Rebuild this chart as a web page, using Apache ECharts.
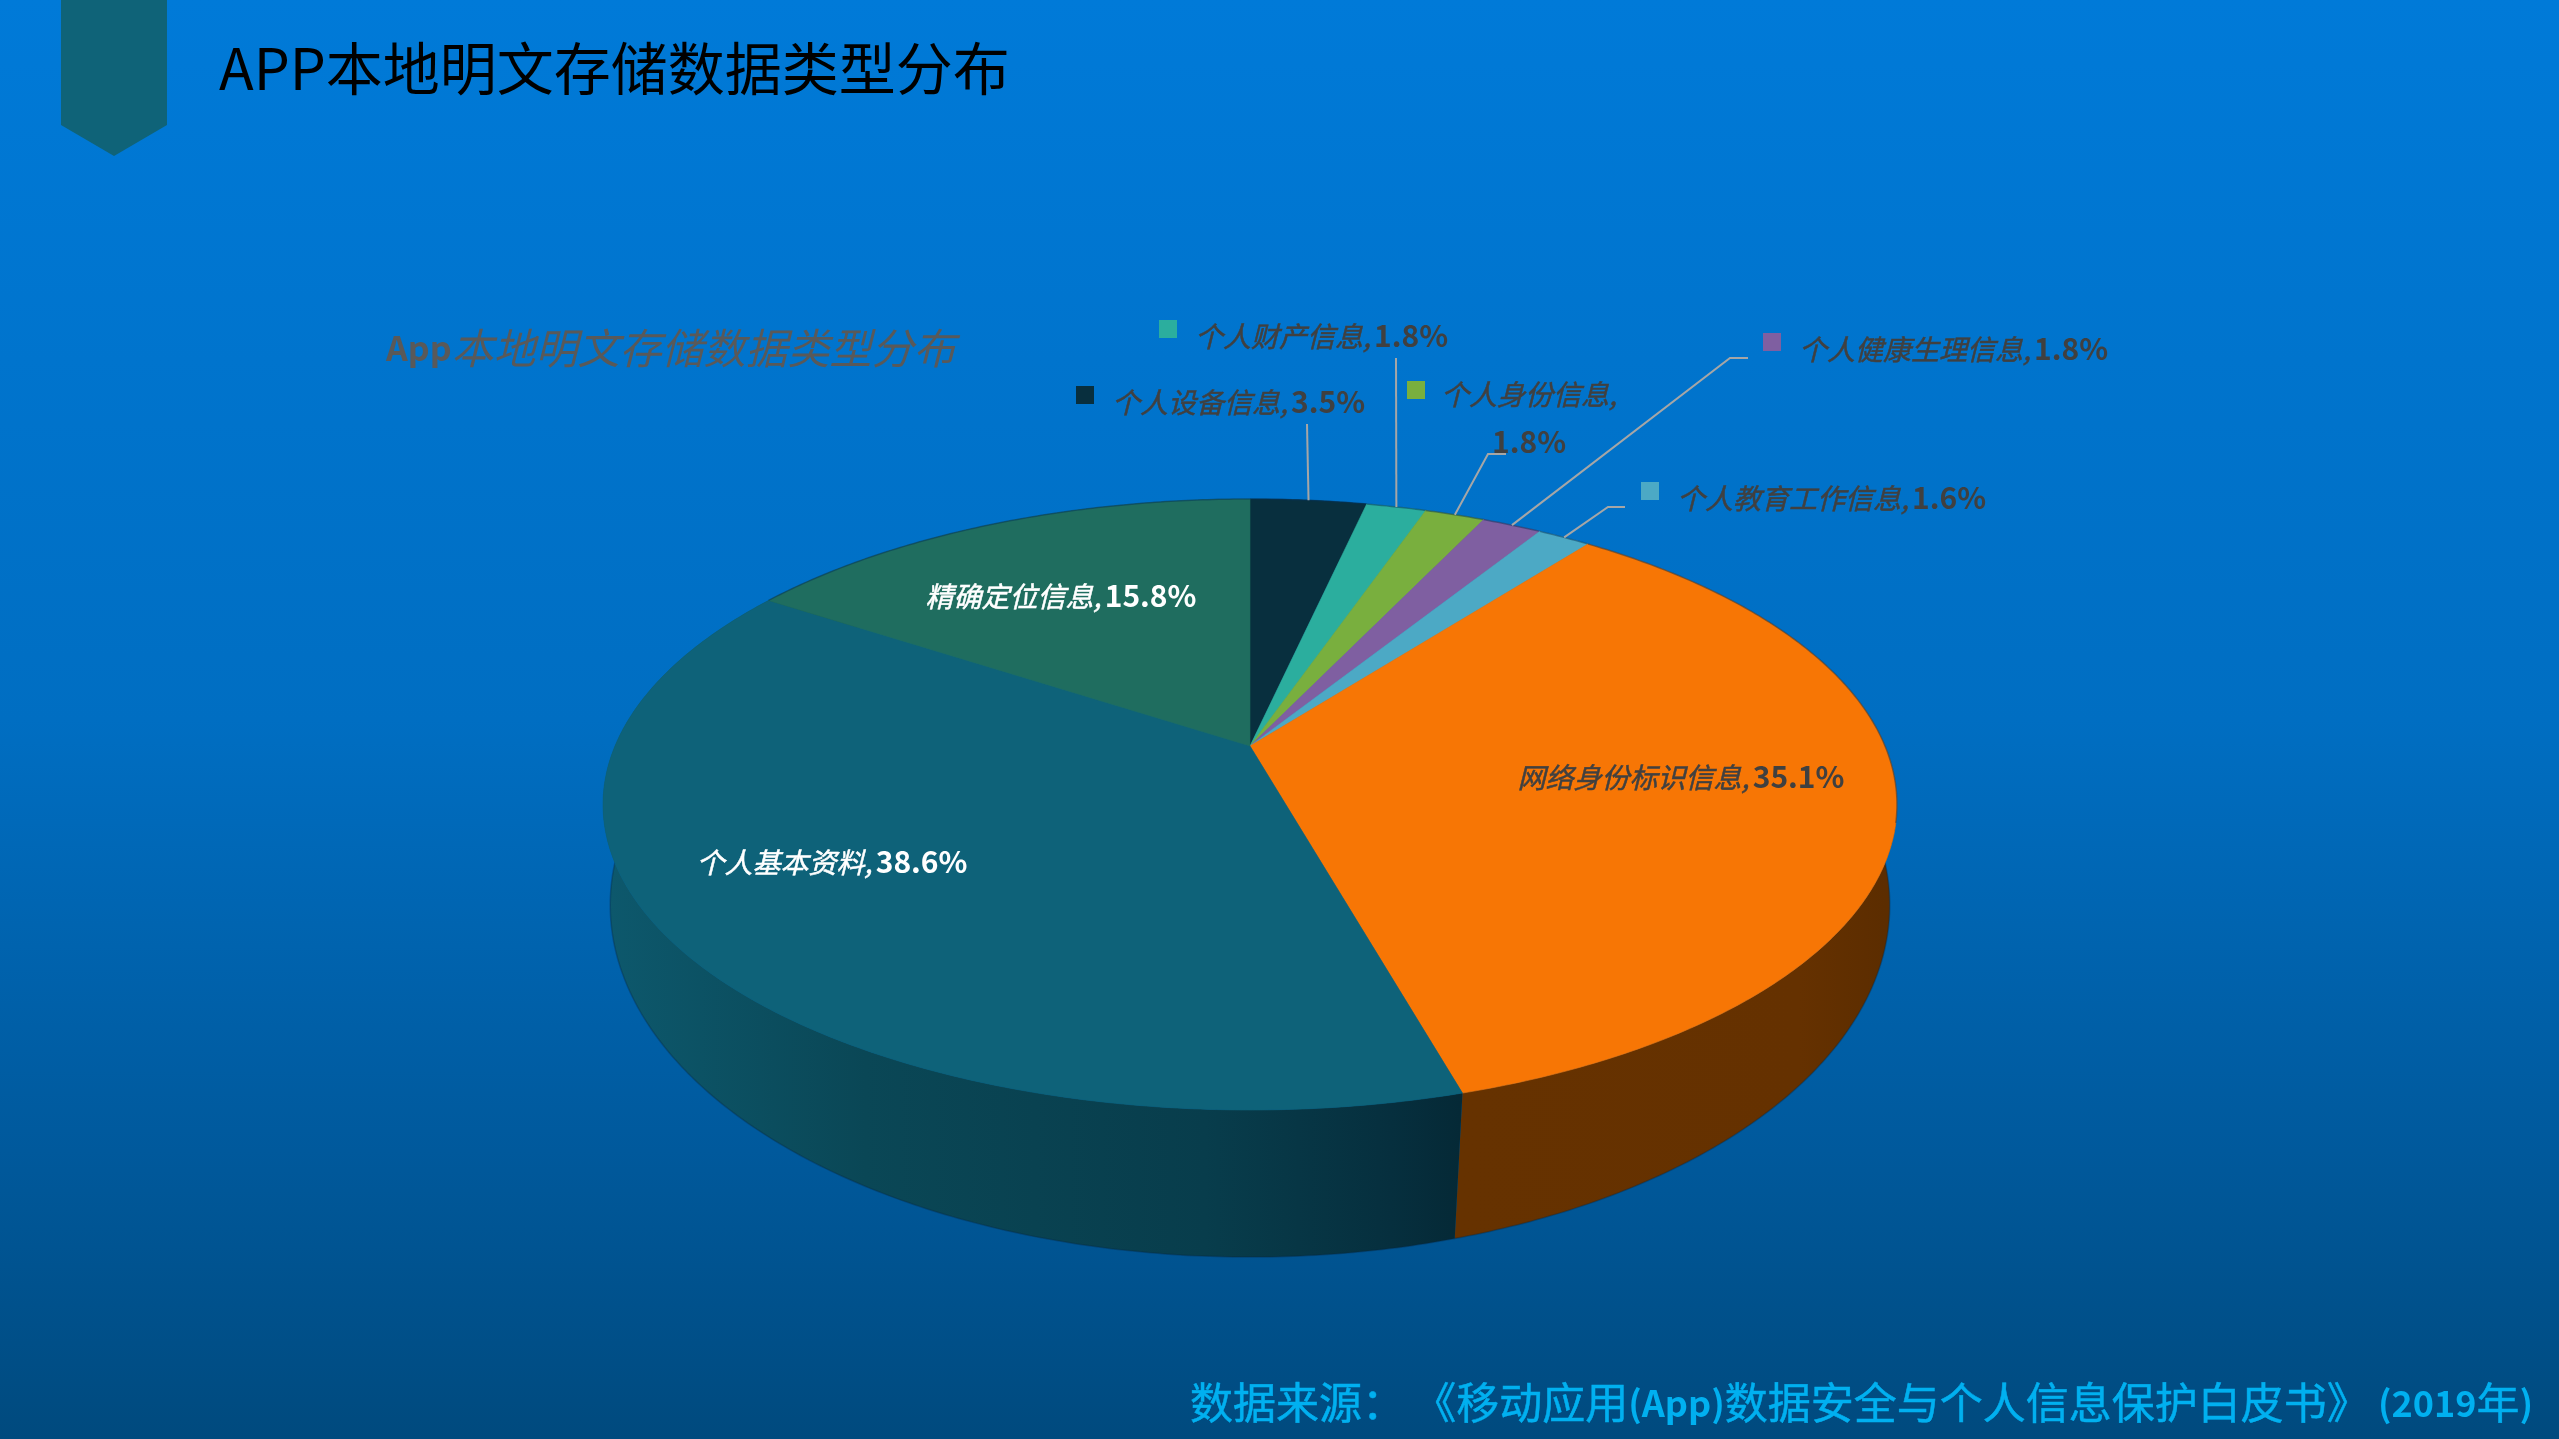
<!DOCTYPE html>
<html>
<head>
<meta charset="utf-8">
<style>html,body{margin:0;padding:0;width:2559px;height:1439px;overflow:hidden}#main{width:2559px;height:1439px}</style>
<script src="https://cdn.jsdelivr.net/npm/echarts@6/dist/echarts.min.js"></script>
</head>
<body>
<div id="main"></div>
<script>
// ---- data (clockwise from 12 o'clock) ----
const categories = ['个人设备信息','个人财产信息','个人身份信息','个人健康生理信息','个人教育工作信息','网络身份标识信息','个人基本资料','精确定位信息'];
const values = [3.5,1.8,1.8,1.8,1.6,35.1,38.6,15.8];
const pageTitle = 'APP本地明文存储数据类型分布';
const chartTitleA = 'App';
const chartTitleB = '本地明文存储数据类型分布';

// ---- styling / layout ----
const CJK = "'Noto Sans CJK SC','Noto Sans',sans-serif";
const topColors = ['#082F3E','#2BAE9E','#79AF3E','#7F5FA1','#4CA9C5','#F77605','#0E6279','#1F6D5F'];
const wallColors = ['#05202B','#1C7269','#4F7229','#533E69','#316F81','#653100','#0A4352','#14473E'];
const upper = {cx:1250, cy:746, A:635, B:294.3, k:0.1915};
const lower = {cx:1250, cy:847, A:631, B:342.4, k:0.165};
const outside = {
  0:{key:[1076,386],text:[1112,402],bend:null,end:[1307,424]},
  1:{key:[1159,320],text:[1195,336],bend:null,end:[1396,358]},
  2:{key:[1407,381],text:[1529,370],bend:[1488,454],end:[1506,454],wrap:true},
  3:{key:[1763,333],text:[1799,349],bend:[1730,358],end:[1748,358]},
  4:{key:[1641,482],text:[1677,498],bend:[1608,507],end:[1625,507]}
};
const inside = {
  5:{pos:[1681,777],color:'#404040'},
  6:{pos:[832,862],color:'#FFFFFF'},
  7:{pos:[1061,596],color:'#FFFFFF'}
};

const total = values.reduce((a,b)=>a+b,0);
function angleAt(i){let s=0;for(let j=0;j<i;j++)s+=values[j];return s/total*Math.PI*2;}
function pt(theta,p){
  const u=Math.sin(theta),v=-Math.cos(theta),w=1-p.k*v;
  return [p.cx+p.A*u/w, p.cy+p.B*v/w];
}
function arc(a0,a1,p){
  const n=Math.max(4,Math.ceil((a1-a0)/0.01)),r=[];
  for(let i=0;i<=n;i++)r.push(pt(a0+(a1-a0)*i/n,p));
  return r;
}
const G=echarts.graphic.LinearGradient;
function wallFill(i){
  if(i===6)return new G(610,0,1460,0,[{offset:0,color:'#0D586C'},{offset:.3,color:'#0A4756'},{offset:.7,color:'#083D4C'},{offset:.92,color:'#062F3E'},{offset:1,color:'#052936'}],true);
  if(i===5)return new G(1460,0,1885,0,[{offset:0,color:'#663200'},{offset:.8,color:'#653100'},{offset:1,color:'#5C2D00'}],true);
  return wallColors[i];
}
function wallItem(params,api){
  const i=params.dataIndex,a0=angleAt(i),a1=a0+api.value(1)/total*Math.PI*2;
  const top=arc(a0,a1,upper),low=arc(a0,a1,lower).reverse();
  return {type:'group',children:[
    {type:'polygon',shape:{points:top.concat(low)},style:{fill:wallFill(i)}},
    {type:'polyline',shape:{points:low},style:{fill:'none',stroke:'rgba(5,40,70,0.35)',lineWidth:1.5}}
  ]};
}
function topItem(params,api){
  const i=params.dataIndex,a0=angleAt(i),a1=a0+api.value(1)/total*Math.PI*2;
  const rimA=Math.max(a0,(a0>Math.PI)?Math.PI*1.42:a0), rimB=Math.min(a1,(a0<Math.PI)?Math.PI*0.58:a1);
  const ch=[{type:'polygon',shape:{points:[[upper.cx,upper.cy]].concat(arc(a0,a1,upper))},style:{fill:topColors[i],stroke:topColors[i],lineWidth:.6}}];
  if(rimB>rimA)ch.push({type:'polyline',shape:{points:arc(rimA,rimB,upper)},style:{fill:'none',stroke:'rgba(5,50,90,0.45)',lineWidth:1.5}});
  return {type:'group',children:ch};
}
const richFor=c=>({
  n:{fontFamily:CJK,fontSize:28,fontStyle:'italic',fill:c,stroke:c,lineWidth:.5,lineHeight:48},
  v:{fontFamily:CJK,fontSize:30,fontWeight:'bold',fill:c,lineHeight:48}
});
function labelItem(params,api){
  const i=params.dataIndex,val=api.value(1).toFixed(1)+'%',name=categories[i],ch=[];
  if(outside[i]){
    const o=outside[i],mid=angleAt(i)+api.value(1)/total*Math.PI;
    const pts=[pt(mid,upper)];
    if(o.bend)pts.push(o.bend);
    pts.push(o.end);
    ch.push({type:'polyline',shape:{points:pts},style:{fill:'none',stroke:'#A6A6A6',lineWidth:2}});
    ch.push({type:'rect',shape:{x:o.key[0],y:o.key[1],width:18,height:18},style:{fill:topColors[i]}});
    const txt=o.wrap?`{n|${name},}\n{v|${val}}`:`{n|${name},} {v|${val}}`;
    ch.push({type:'text',style:{x:o.text[0],y:o.text[1],text:txt,verticalAlign:o.wrap?'top':'middle',align:o.wrap?'center':'left',rich:richFor('#404040')}});
  } else {
    const l=inside[i];
    ch.push({type:'text',style:{x:l.pos[0],y:l.pos[1],text:`{n|${name},} {v|${val}}`,align:'center',verticalAlign:'middle',rich:richFor(l.color)}});
  }
  return {type:'group',children:ch};
}
const dataRows=categories.map((c,i)=>[c,values[i]]);
const chart=echarts.init(document.getElementById('main'),null,{renderer:'canvas',width:2559,height:1439});
chart.setOption({
  animation:false,
  backgroundColor:new G(0,0,0,1,[{offset:0,color:'#007AD8'},{offset:.5,color:'#006EC2'},{offset:.8,color:'#00599C'},{offset:1,color:'#004A7E'}]),
  graphic:[
    {type:'polygon',z:1,shape:{points:[[61,0],[167,0],[167,125],[114,156],[61,125]]},style:{fill:'#0F6378'}},
    {type:'text',z:1,style:{x:219,y:68,text:pageTitle,fill:'#000',font:`57px ${CJK}`,verticalAlign:'middle'}},
    {type:'text',z:1,style:{x:386,y:348,text:`{a|${chartTitleA}}{b|${chartTitleB}}`,verticalAlign:'middle',rich:{
      a:{fontFamily:CJK,fontSize:34,fontWeight:'bold',fill:'#595959'},
      b:{fontFamily:CJK,fontSize:42,fontStyle:'italic',fill:'#595959'}}}},
    {type:'text',z:1,style:{x:1190,y:1403,verticalAlign:'middle',
      text:'{c|数据来源：}{m| }{c|《移动应用}{m|(App)}{c|数据安全与个人信息保护白皮书》}{m| (2019}{c|年}{m|)}',
      rich:{c:{fontFamily:CJK,fontSize:43,fill:'#00B0F0',stroke:'#00B0F0',lineWidth:.5},m:{fontFamily:CJK,fontSize:36,fontWeight:'bold',fill:'#00B0F0'}}}}
  ],
  series:[
    {type:'custom',coordinateSystem:'none',z:2,silent:true,data:dataRows,renderItem:wallItem},
    {type:'custom',coordinateSystem:'none',z:3,silent:true,data:dataRows,renderItem:topItem},
    {type:'custom',coordinateSystem:'none',z:4,silent:true,data:dataRows,renderItem:labelItem}
  ]
});
</script>
</body>
</html>
